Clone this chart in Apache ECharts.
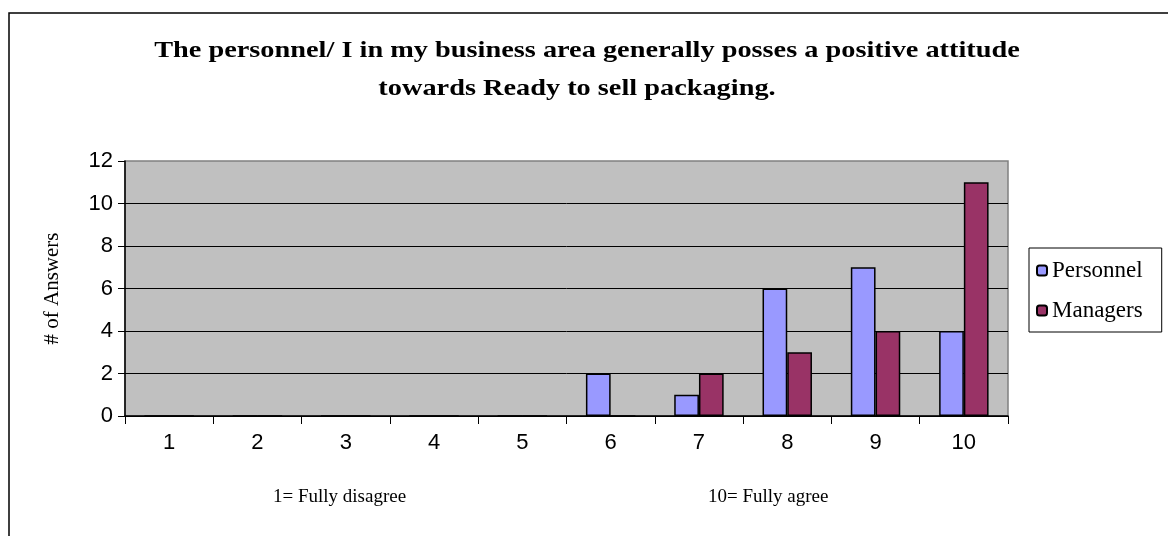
<!DOCTYPE html>
<html>
<head>
<meta charset="utf-8">
<script src="https://cdn.jsdelivr.net/npm/echarts@6/dist/echarts.min.js"></script>
<style>
  html, body { margin: 0; padding: 0; background: #fff; }
  #main { width: 1168px; height: 536px; }
</style>
</head>
<body>
<div id="main"></div>
<script>
var categories = ['1', '2', '3', '4', '5', '6', '7', '8', '9', '10'];
var personnel = [0, 0, 0, 0, 0, 2, 1, 6, 7, 4];
var managers = [0, 0, 0, 0, 0, 0, 2, 3, 4, 11];
var titleLines = [
    'The personnel/ I in my business area generally posses a positive attitude',
    'towards Ready to sell packaging.'
];

var titleFont = 'bold 24px "Liberation Serif"';

var myChart = echarts.init(document.getElementById('main'));
myChart.setOption({
    animation: false,
    legend: {
        orient: 'vertical',
        left: 1029,
        top: 248,
        itemWidth: 10,
        itemHeight: 10,
        itemGap: 17,
        padding: [11, 19, 10, 7],
        backgroundColor: '#fff',
        borderColor: '#000',
        borderWidth: 1,
        textStyle: { fontFamily: 'Liberation Serif', fontSize: 23, color: '#000' },
        data: ['Personnel', 'Managers']
    },
    grid: {
        left: 125,
        right: 160,
        top: 161,
        bottom: 120,
        show: true,
        backgroundColor: '#C0C0C0',
        borderColor: '#808080',
        borderWidth: 1.5
    },
    xAxis: {
        type: 'category',
        data: categories,
        axisLine: { lineStyle: { color: '#000', width: 1.5 } },
        axisTick: { show: true, length: 8, lineStyle: { color: '#000' } },
        axisLabel: { fontFamily: 'Liberation Sans', fontSize: 22, color: '#000', margin: 16 }
    },
    yAxis: {
        type: 'value',
        min: 0,
        max: 12,
        interval: 2,
        name: '# of Answers',
        nameLocation: 'middle',
        nameGap: 62,
        nameTextStyle: { fontFamily: 'Liberation Serif', fontSize: 21, color: '#000' },
        axisLine: { show: true, lineStyle: { color: '#000', width: 1.5 } },
        axisTick: { show: true, length: 7, lineStyle: { color: '#000' } },
        axisLabel: { fontFamily: 'Liberation Sans', fontSize: 22, color: '#000', margin: 12 },
        splitLine: { show: true, showMaxLine: false, lineStyle: { color: '#000', width: 1 } }
    },
    series: [
        {
            name: 'Personnel',
            type: 'bar',
            data: personnel,
            barWidth: '28%',
            barGap: '0%',
            itemStyle: { color: '#9999FF', borderColor: '#000', borderWidth: 1.5 }
        },
        {
            name: 'Managers',
            type: 'bar',
            data: managers,
            barWidth: '28%',
            barGap: '0%',
            itemStyle: { color: '#993366', borderColor: '#000', borderWidth: 1.5 }
        }
    ],
    graphic: [
        {
            type: 'rect',
            shape: { x: 9, y: 13, width: 1200, height: 600 },
            style: { fill: 'none', stroke: '#000', lineWidth: 1.5 },
            silent: true
        },
        // title, stretched a bit like the original
        {
            type: 'text',
            x: 587, y: 51, scaleX: 1.18,
            style: { text: titleLines[0], font: titleFont, fill: '#000', align: 'center', verticalAlign: 'middle' }
        },
        {
            type: 'text',
            x: 577, y: 89, scaleX: 1.18,
            style: { text: titleLines[1], font: titleFont, fill: '#000', align: 'center', verticalAlign: 'middle' }
        },
        {
            type: 'text',
            left: 273,
            top: 488,
            style: { text: '1= Fully disagree', font: '19px "Liberation Serif"', fill: '#000' }
        },
        {
            type: 'text',
            left: 708,
            top: 488,
            style: { text: '10= Fully agree', font: '19px "Liberation Serif"', fill: '#000' }
        }
    ]
});
</script>
</body>
</html>
